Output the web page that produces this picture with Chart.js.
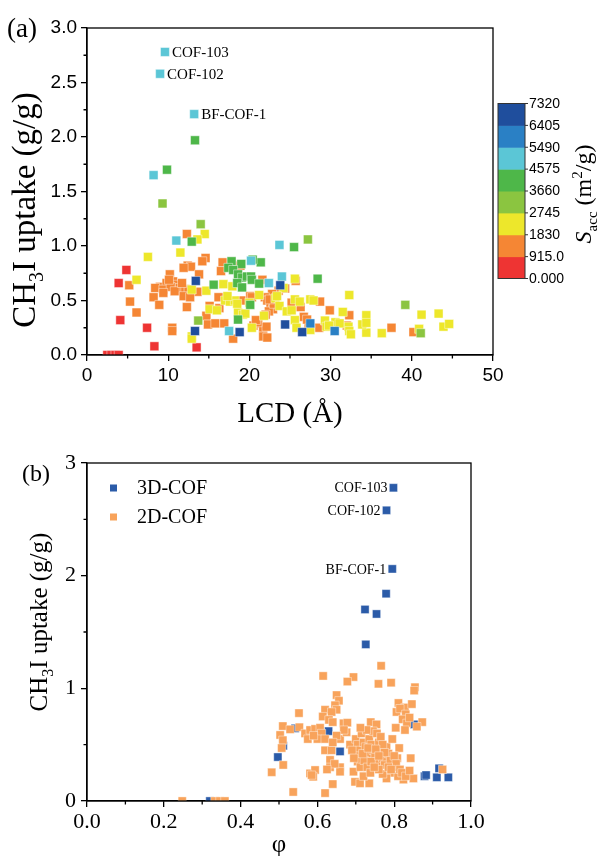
<!DOCTYPE html>
<html><head><meta charset="utf-8">
<script src="https://cdn.jsdelivr.net/npm/chart.js@4.4.1/dist/chart.umd.min.js"></script>
<style>
html,body{margin:0;padding:0;background:#fff;}
#wrap{position:relative;width:604px;height:856px;overflow:hidden;}
canvas{position:absolute;left:0;}
#ca{top:0;} #cb{top:440px;}
</style></head><body>
<div id="wrap"><canvas id="ca" width="604" height="440"></canvas><canvas id="cb" width="604" height="416"></canvas></div>
<script>
// ================= Panel (a): LCD (Å) vs CH3I uptake (g/g), coloured by S_acc bin =================
const saccTickLabels = ['0.000','915.0','1830','2745','3660','4575','5490','6405','7320'];
const saccBinColors = ['#ee3433','#f58634','#ede72b','#8bc540','#4eb749','#5bc6d6','#2a80c5','#1f4e9d'];

const binRed = [[2.5,0],[3.0,0],[3.5,0],[3.9,0],[3.9,0.66],[4.85,0.78],[4.1,0.32],[7.4,0.25],[8.3,0.08],[13.5,0.07]];
const binOrange = [[12.3,1.11],[14.6,0.89],[14.2,0.86],[12.4,0.82],[12.8,0.81],[11.9,0.80],[13.8,0.74],[10.2,0.74],[5.2,0.64],
  [9.0,0.625],[9.8,0.66],[10.6,0.675],[11.0,0.645],[11.4,0.615],[8.4,0.615],[9.4,0.60],[10.3,0.625],[10.8,0.585],[9.4,0.57],
  [12.1,0.605],[12.5,0.60],[10.1,0.69],[11.7,0.66],[13.6,0.58],[8.2,0.53],[11.9,0.54],[12.7,0.53],[5.3,0.49],[8.9,0.46],
  [12.3,0.44],[6.1,0.39],[10.5,0.25],[10.5,0.22],[16.7,0.85],[16.5,0.77],[18.9,0.82],[21.6,0.69],[25.7,0.68],
  [15.1,0.45],[14.7,0.36],[16.3,0.43],[14.9,0.28],[15.8,0.29],[16.9,0.29],[18.0,0.15],[20.5,0.27],[21.1,0.29],
  [21.7,0.25],[22.1,0.26],[21.7,0.17],[22.2,0.16],[20.1,0.54],[23.6,0.59],[24.4,0.61],[22.8,0.56],[21.9,0.53],
  [20.3,0.53],[16.2,0.53],[19.0,0.50],[25.2,0.48],[26.3,0.44],[28.7,0.49],[22.2,0.50],[22.6,0.44],[22.9,0.42],
  [22.4,0.40],[22.0,0.37],[29.9,0.41],[32.3,0.365],[37.5,0.25],[40.2,0.21],[32.0,0.27],[28.6,0.25],[27.3,0.26],
  [26.7,0.35],[27.1,0.325],[21.0,0.30],[20.8,0.32],[23.0,0.47],[22.5,0.51]];
const binYellow = [[14.5,1.11],[13.6,1.06],[11.5,0.94],[7.5,0.90],[6.1,0.69],[12.9,0.60],[14.7,0.59],[16.8,0.65],[17.9,0.63],
  [12.9,0.17],[12.9,0.15],[15.1,0.42],[18.6,0.39],[19.2,0.37],[20.3,0.25],[25.6,0.70],[24.2,0.615],[32.3,0.55],
  [21.2,0.55],[23.2,0.52],[23.4,0.54],[25.6,0.51],[26.2,0.49],[27.5,0.51],[27.9,0.50],[23.7,0.45],[24.6,0.40],
  [25.2,0.41],[21.8,0.36],[31.5,0.395],[34.4,0.365],[41.2,0.37],[43.3,0.38],[43.9,0.26],[44.6,0.285],[40.9,0.24],
  [36.3,0.20],[34.4,0.205],[33.9,0.28],[34.4,0.295],[32.2,0.26],[32.3,0.22],[32.5,0.19],[30.6,0.30],[31.1,0.29],
  [29.3,0.316],[29.5,0.26],[29.8,0.27],[27.5,0.23],[25.6,0.32],[25.8,0.25],[17.0,0.50],[17.6,0.49],[18.2,0.50],
  [18.5,0.47],[17.3,0.54],[20.0,0.48],[16.0,0.41],[19.5,0.38]];
const binYellowGreen = [[9.3,1.39],[14.0,1.20],[13.7,0.316],[27.2,1.06],[39.2,0.46],[41.1,0.20]];
const binGreen = [[13.3,1.97],[9.85,1.70],[12.9,1.04],[25.5,0.99],[17.8,0.86],[19.0,0.835],[17.4,0.80],[18.0,0.78],
  [18.6,0.74],[19.1,0.71],[19.7,0.72],[20.2,0.72],[18.5,0.66],[19.1,0.62],[20.3,0.69],[21.2,0.655],[21.4,0.85],
  [20.4,0.875],[15.6,0.645],[20.1,0.46],[18.6,0.325],[28.4,0.70]];
const binCyan = [[9.6,2.78],[9.0,2.58],[13.2,2.21],[8.2,1.65],[11.0,1.05],[20.2,0.865],[22.4,0.66],[24.0,0.72],[23.7,1.01],[17.5,0.22]];
const binBlue = [[27.5,0.29],[30.5,0.22]];
const binDarkBlue = [[13.4,0.68],[13.3,0.22],[18.8,0.21],[23.8,0.64],[24.4,0.28],[26.5,0.21]];

const aXTicks = [0,10,20,30,40,50];
const aYTicks = [0,0.5,1.0,1.5,2.0,2.5,3.0];
const aLabelNames = ['COF-103','COF-102','BF-COF-1'];
const aLabelIdx = [0,1,2]; // indexes into binCyan

// ================= Panel (b): porosity φ vs CH3I uptake (g/g) =================
const cof3D = [[0.798,2.78],[0.780,2.58],[0.795,2.06],[0.779,1.84],[0.724,1.70],[0.754,1.66],[0.726,1.39],[0.852,0.68],
  [0.542,0.645],[0.511,0.49],[0.497,0.39],[0.629,0.62],[0.659,0.44],[0.879,0.22],[0.883,0.23],[0.911,0.21],[0.941,0.21],
  [0.917,0.29],[0.320,0]];
const cof2D = [[0.248,0],[0.333,0],[0.346,0],[0.359,0],[0.481,0.255],[0.511,0.32],[0.537,0.08],[0.620,0.07],[0.640,0.15],
  [0.503,0.586],[0.510,0.54],[0.507,0.47],[0.510,0.665],[0.529,0.636],[0.553,0.655],[0.552,0.78],[0.568,0.60],[0.581,0.63],
  [0.594,0.64],[0.607,0.65],[0.611,0.60],[0.575,0.55],[0.600,0.55],[0.590,0.58],[0.581,0.245],[0.594,0.275],[0.589,0.215],
  [0.585,0.23],[0.615,1.11],[0.694,1.10],[0.678,1.06],[0.759,1.04],[0.792,1.05],[0.766,1.20],[0.854,1.01],[0.852,0.98],
  [0.650,0.94],[0.656,0.89],[0.646,0.85],[0.650,0.81],[0.620,0.81],[0.614,0.75],[0.637,0.79],[0.630,0.72],[0.640,0.70],
  [0.811,0.87],[0.806,0.79],[0.828,0.83],[0.846,0.86],[0.815,0.82],[0.830,0.77],[0.822,0.725],[0.833,0.69],[0.873,0.70],
  [0.859,0.66],[0.828,0.63],[0.804,0.65],[0.840,0.74],[0.668,0.69],[0.678,0.695],[0.739,0.70],[0.754,0.68],[0.620,0.45],
  [0.637,0.45],[0.633,0.365],[0.633,0.30],[0.659,0.30],[0.659,0.26],[0.645,0.33],[0.625,0.28],[0.659,0.55],[0.685,0.50],
  [0.676,0.61],[0.669,0.63],[0.650,0.58],[0.620,0.55],[0.640,0.52],[0.694,0.26],[0.698,0.17],[0.711,0.157],[0.735,0.157],
  [0.720,0.22],[0.813,0.47],[0.808,0.38],[0.843,0.38],[0.833,0.245],[0.850,0.20],[0.824,0.19],[0.926,0.28],[0.800,0.30],
  [0.790,0.25],[0.810,0.22],[0.780,0.20],[0.770,0.24],[0.700,0.55],[0.705,0.50],[0.710,0.45],[0.715,0.60],[0.720,0.52],
  [0.725,0.48],[0.730,0.42],[0.735,0.55],[0.740,0.50],[0.745,0.45],[0.750,0.40],[0.755,0.35],[0.760,0.52],[0.765,0.45],
  [0.770,0.38],[0.775,0.32],[0.780,0.48],[0.785,0.42],[0.790,0.36],[0.795,0.55],[0.700,0.40],[0.705,0.35],[0.712,0.30],
  [0.722,0.36],[0.730,0.30],[0.738,0.25],[0.745,0.62],[0.755,0.60],[0.765,0.57],[0.728,0.63],[0.712,0.65],[0.690,0.45],
  [0.695,0.38],[0.740,0.35],[0.760,0.28],[0.748,0.30],[0.770,0.50],[0.718,0.42],[0.732,0.47],[0.752,0.46],[0.775,0.43],
  [0.760,0.40],[0.800,0.40],[0.805,0.33],[0.785,0.30],[0.792,0.28],[0.815,0.28],[0.820,0.25],[0.830,0.22],[0.840,0.27]];
const bXTicks = [0,0.2,0.4,0.6,0.8,1.0];
const bYTicks = [0,1,2,3];
const bLabelNames = ['COF-103','COF-102','BF-COF-1'];
const bLabelIdx = [0,1,2]; // indexes into cof3D
const bSeriesNames = ['3D-COF','2D-COF'];
const bSeriesColors = ['#2b5ba8','#f8a35b'];

// ================= helpers =================
const SERIF = "'Liberation Serif','Times New Roman',serif";
const SANS = "'Liberation Sans',Arial,sans-serif";
const mids = t => t.slice(1).map((v,i)=>(v+t[i])/2);

function drawRich(ctx, parts, cx, cy, size, fam, rot) {
  ctx.save();
  ctx.translate(cx, cy);
  if (rot) ctx.rotate(rot);
  const fontFor = p => (p[2] ? 'italic ' : '') + (p[1] ? Math.round(size*0.62) : size) + 'px ' + fam;
  let total = 0;
  parts.forEach(p => { ctx.font = fontFor(p); total += ctx.measureText(p[0]).width; });
  let x = -total/2;
  ctx.textAlign = 'left'; ctx.textBaseline = 'alphabetic'; ctx.fillStyle = '#000';
  parts.forEach(p => {
    ctx.font = fontFor(p);
    const dy = p[1] === 1 ? size*0.24 : (p[1] === 2 ? -size*0.38 : 0);
    ctx.fillText(p[0], x, dy);
    x += ctx.measureText(p[0]).width;
  });
  ctx.restore();
}

function frameAndMinor(chart, xMinor, yMinor) {
  const {ctx, chartArea:a, scales} = chart;
  ctx.save();
  ctx.strokeStyle = '#000'; ctx.lineWidth = 1.3;
  ctx.strokeRect(a.left, a.top, a.right - a.left, a.bottom - a.top);
  ctx.beginPath();
  xMinor.forEach(v => { const p = scales.x.getPixelForValue(v); ctx.moveTo(p, a.bottom); ctx.lineTo(p, a.bottom + 3.5); });
  yMinor.forEach(v => { const p = scales.y.getPixelForValue(v); ctx.moveTo(a.left, p); ctx.lineTo(a.left - 3.5, p); });
  ctx.stroke();
  ctx.restore();
}

function axisCommon(ticksArr, fam, size, fmt, pad) {
  return {
    type: 'linear',
    min: ticksArr[0], max: ticksArr[ticksArr.length-1],
    afterBuildTicks: s => { s.ticks = ticksArr.map(v => ({value: v})); },
    ticks: { font: {family: fam, size: size}, color: '#000', padding: pad, maxRotation: 0, autoSkip: false, callback: fmt },
    grid: { display: true, drawOnChartArea: false, drawTicks: true, tickLength: 6, color: '#000', lineWidth: 1.3 },
    border: { display: true, color: '#000', width: 1.3 }
  };
}

// ================= Chart (a) =================
const binSets = [binRed, binOrange, binYellow, binYellowGreen, binGreen, binCyan, binBlue, binDarkBlue];

const pluginA = {
  id: 'decorA',
  afterDraw(chart) {
    const {ctx, chartArea:a, scales} = chart;
    frameAndMinor(chart, mids(aXTicks), mids(aYTicks));
    // point annotations
    ctx.save();
    ctx.font = '15px ' + SERIF; ctx.fillStyle = '#000'; ctx.textAlign = 'left'; ctx.textBaseline = 'middle';
    aLabelIdx.forEach((idx, i) => {
      const p = binCyan[idx];
      ctx.fillText(aLabelNames[i], scales.x.getPixelForValue(p[0]) + 7, scales.y.getPixelForValue(p[1]) + 1);
    });
    // panel letter
    ctx.font = '27px ' + SERIF; ctx.textAlign = 'left'; ctx.textBaseline = 'alphabetic';
    ctx.fillText('(a)', 7, 37);
    ctx.restore();
    // axis titles
    drawRich(ctx, [['LCD (Å)',0]], 290, 422, 29, SERIF, 0);
    drawRich(ctx, [['CH',0],['3',1],['I uptake (g/g)',0]], 35, 210, 33, SERIF, -Math.PI/2);
    // colour bar
    const cbL = 498, cbR = 525, cbT = 103.5, cbB = 278.5;
    const n = saccBinColors.length, h = (cbB - cbT) / n;
    ctx.save();
    saccBinColors.forEach((c, i) => { ctx.fillStyle = c; ctx.fillRect(cbL, cbB - (i+1)*h, cbR - cbL, h + 0.5); });
    ctx.strokeStyle = '#333'; ctx.lineWidth = 1;
    ctx.strokeRect(cbL, cbT, cbR - cbL, cbB - cbT);
    ctx.beginPath();
    ctx.font = '14px ' + SANS; ctx.fillStyle = '#000'; ctx.textAlign = 'left'; ctx.textBaseline = 'middle';
    saccTickLabels.forEach((t, i) => {
      const y = cbB - i*h;
      ctx.moveTo(cbR, y); ctx.lineTo(cbR + 3, y);
      ctx.fillText(t, cbR + 4, y + 0.5);
    });
    ctx.stroke();
    ctx.restore();
    drawRich(ctx, [['S',0,true],['acc',1],[' (m',0],['2',2],['/g)',0]], 591, 194, 24, SERIF, -Math.PI/2);
  }
};

new Chart(document.getElementById('ca'), {
  type: 'scatter',
  data: { datasets: binSets.map((pts, i) => ({
    label: saccTickLabels[i] + '-' + saccTickLabels[i+1],
    data: pts.map(p => ({x: p[0], y: p[1]})),
    backgroundColor: saccBinColors[i],
    borderColor: 'rgba(255,255,255,0.55)',
    borderWidth: 0.8,
    pointStyle: 'rect',
    pointRadius: 6.3,
    pointHoverRadius: 6.3,
    order: binSets.length - 1 - i,
    clip: 0
  })) },
  options: {
    responsive: false, animation: false, events: [],
    layout: { padding: { left: 0, right: 111, top: 28, bottom: 55 } },
    plugins: { legend: {display: false}, tooltip: {enabled: false} },
    scales: {
      x: Object.assign(axisCommon(aXTicks, SANS, 19, v => String(v), 3), { afterFit: s => { s.height = 30; } }),
      y: Object.assign(axisCommon(aYTicks, SANS, 19, v => v.toFixed(1), 4), { afterFit: s => { s.width = 87; } })
    }
  },
  plugins: [pluginA]
});

// ================= Chart (b) =================
const pluginB = {
  id: 'decorB',
  afterDraw(chart) {
    const {ctx, chartArea:a, scales} = chart;
    frameAndMinor(chart, mids(bXTicks), mids(bYTicks));
    ctx.save();
    ctx.font = '14px ' + SERIF; ctx.fillStyle = '#000'; ctx.textAlign = 'right'; ctx.textBaseline = 'middle';
    bLabelIdx.forEach((idx, i) => {
      const p = cof3D[idx];
      ctx.fillText(bLabelNames[i], scales.x.getPixelForValue(p[0]) - 6, scales.y.getPixelForValue(p[1]) + 1);
    });
    // legend
    ctx.textAlign = 'left'; ctx.font = '20px ' + SERIF;
    bSeriesNames.forEach((nm, i) => {
      const y = 48 + i*29;
      ctx.fillStyle = bSeriesColors[i];
      ctx.fillRect(110, y - 3.5, 7, 7);
      ctx.fillStyle = '#000';
      ctx.fillText(nm, 137, y + 1);
    });
    ctx.font = '24px ' + SERIF; ctx.textBaseline = 'alphabetic';
    ctx.fillText('(b)', 22, 41);
    ctx.restore();
    drawRich(ctx, [['φ',0]], 279, 412, 25, SERIF, 0);
    drawRich(ctx, [['CH',0],['3',1],['I uptake (g/g)',0]], 47, 182, 25, SERIF, -Math.PI/2);
  }
};

new Chart(document.getElementById('cb'), {
  type: 'scatter',
  data: { datasets: [
    { label: bSeriesNames[0], data: cof3D.map(p => ({x: p[0], y: p[1]})), backgroundColor: bSeriesColors[0],
      borderColor: 'rgba(255,255,255,0.5)', borderWidth: 0.8, pointStyle: 'rect', pointRadius: 5.8, pointHoverRadius: 5.8, order: 1, clip: 0 },
    { label: bSeriesNames[1], data: cof2D.map(p => ({x: p[0], y: p[1]})), backgroundColor: bSeriesColors[1],
      borderColor: 'rgba(255,255,255,0.5)', borderWidth: 0.8, pointStyle: 'rect', pointRadius: 5.8, pointHoverRadius: 5.8, order: 0, clip: 0 }
  ] },
  options: {
    responsive: false, animation: false, events: [],
    layout: { padding: { left: 0, right: 133, top: 23, bottom: 25 } },
    plugins: { legend: {display: false}, tooltip: {enabled: false} },
    scales: {
      x: Object.assign(axisCommon(bXTicks, SERIF, 22, v => v.toFixed(1), 2), { afterFit: s => { s.height = 30; } }),
      y: Object.assign(axisCommon(bYTicks, SERIF, 22, v => String(v), 5), { afterFit: s => { s.width = 87; } })
    }
  },
  plugins: [pluginB]
});
</script>
</body></html>
